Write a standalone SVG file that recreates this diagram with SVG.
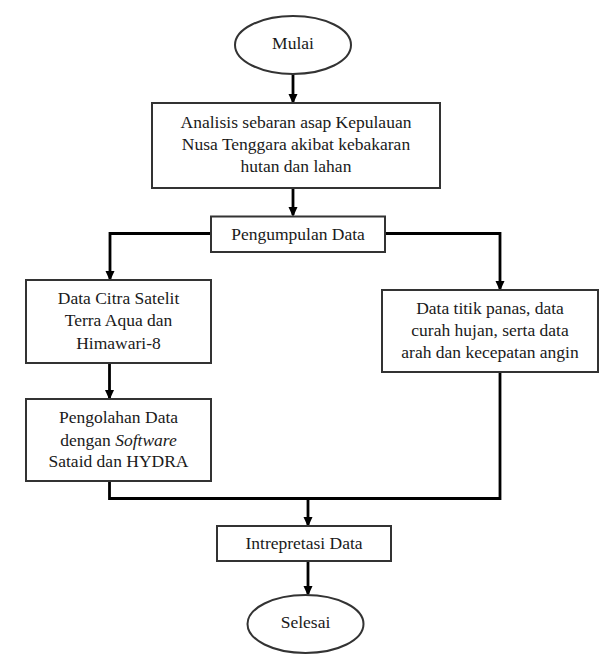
<svg xmlns="http://www.w3.org/2000/svg" width="615" height="660" viewBox="0 0 615 660">
<style>
.box{fill:#fff;stroke:#333;stroke-width:2}
.t{font-family:'Liberation Serif','Times New Roman',Times,Tinos,'DejaVu Serif',serif;font-size:17.5px;fill:#1a1a1a;text-anchor:middle}
.c{fill:none;stroke:#000;stroke-width:2.8;stroke-linejoin:miter}
</style>
<defs>
<marker id="ah" markerWidth="10" markerHeight="10" refX="8" refY="5" orient="auto" markerUnits="userSpaceOnUse" viewBox="0 0 10 10">
<path d="M0,0.5 L10,5 L0,9.5 Z" fill="#000"/>
</marker>
</defs>
<rect width="615" height="660" fill="#fff"/>
<g id="connectors">
<line class="c" x1="293" y1="74" x2="293" y2="102" marker-end="url(#ah)"/>
<line class="c" x1="293" y1="188" x2="293" y2="215" marker-end="url(#ah)"/>
<polyline class="c" points="211,233.5 110,233.5 110,279" marker-end="url(#ah)"/>
<polyline class="c" points="385,233.5 500,233.5 500,289" marker-end="url(#ah)"/>
<line class="c" x1="109.5" y1="363" x2="109.5" y2="398" marker-end="url(#ah)"/>
<polyline class="c" points="109.5,481 109.5,498.5 500,498.5 500,372"/>
<line class="c" x1="308" y1="498.5" x2="308" y2="525" marker-end="url(#ah)"/>
<line class="c" x1="308" y1="561" x2="308" y2="594" marker-end="url(#ah)"/>
</g>
<g id="mulai">
<ellipse class="box" cx="293" cy="45" rx="58" ry="29"/>
<text class="t" x="293" y="49" font-family="Liberation Serif, serif">Mulai</text>
</g>
<g id="analisis">
<rect class="box" x="152" y="103" width="288" height="85"/>
<text class="t" x="296" y="128">Analisis sebaran asap Kepulauan</text>
<text class="t" x="296" y="150">Nusa Tenggara akibat kebakaran</text>
<text class="t" x="296" y="172">hutan dan lahan</text>
</g>
<g id="pengumpulan">
<rect class="box" x="211" y="216.5" width="174" height="35.5"/>
<text class="t" x="298" y="240">Pengumpulan Data</text>
</g>
<g id="citra">
<rect class="box" x="26" y="280" width="185" height="83"/>
<text class="t" x="118.5" y="304">Data Citra Satelit</text>
<text class="t" x="118.5" y="326">Terra Aqua dan</text>
<text class="t" x="118.5" y="348.5">Himawari-8</text>
</g>
<g id="titik">
<rect class="box" x="382" y="290" width="216" height="82"/>
<text class="t" x="490" y="314">Data titik panas, data</text>
<text class="t" x="490" y="336">curah hujan, serta data</text>
<text class="t" x="490" y="357.5">arah dan kecepatan angin</text>
</g>
<g id="pengolahan">
<rect class="box" x="26" y="399" width="185" height="82"/>
<text class="t" x="118.5" y="423">Pengolahan Data</text>
<text class="t" x="118.5" y="445.5">dengan <tspan font-style="italic">Software</tspan></text>
<text class="t" x="118.5" y="467">Sataid dan HYDRA</text>
</g>
<g id="intrepretasi">
<rect class="box" x="217" y="526" width="174" height="35"/>
<text class="t" x="304" y="549">Intrepretasi Data</text>
</g>
<g id="selesai">
<ellipse class="box" cx="305.5" cy="624" rx="58" ry="29"/>
<text class="t" x="305.5" y="628">Selesai</text>
</g>
</svg>
